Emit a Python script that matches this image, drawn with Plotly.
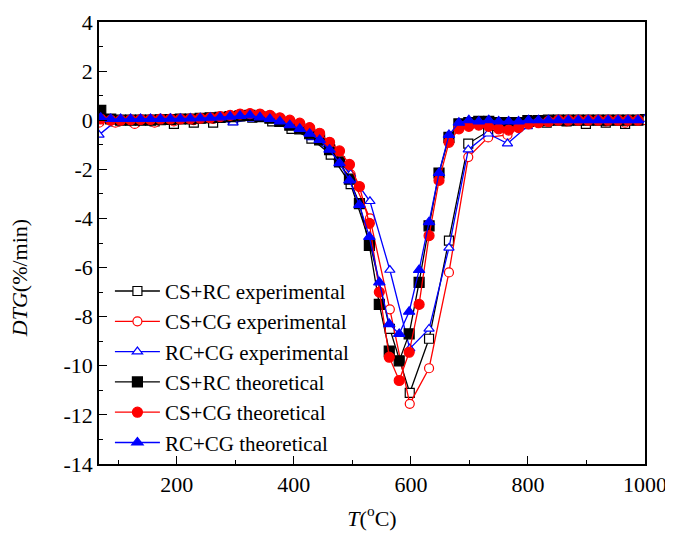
import plotly.graph_objects as go

# Experimental temperatures (°C)
T_exp = [67, 95, 128, 162, 195, 229, 262, 296, 329, 363, 396, 430, 463, 497, 530,
         564, 598, 631, 665, 698, 732, 765, 799, 832, 866, 899, 933, 966, 1000]
cs_rc_exp = [0.0, -0.05, -0.05, -0.05, -0.15, -0.1, -0.1, 0.0, 0.1, -0.05, -0.35, -0.75, -1.4, -2.6, -5.0,
             -8.5, -11.1, -8.9, -4.9, -0.95, -0.45, -0.3, 0.0, -0.1, -0.05, -0.15, -0.1, -0.15, 0.05]
cs_cg_exp = [-0.1, -0.1, -0.15, -0.1, -0.05, 0.0, 0.05, 0.15, 0.2, 0.1, -0.15, -0.5, -1.1, -2.2, -4.0,
             -7.7, -11.55, -10.1, -6.2, -1.5, -0.7, -0.6, -0.1, -0.05, -0.05, 0.0, -0.05, -0.1, 0.0]
rc_cg_exp = [-0.6, -0.05, 0.0, 0.0, 0.0, 0.0, 0.0, -0.1, 0.05, 0.0, -0.25, -0.7, -1.3, -2.2, -3.3,
             -6.1, -9.3, -8.5, -5.2, -1.2, -0.55, -0.95, -0.25, -0.05, 0.0, -0.05, 0.0, 0.0, 0.05]

# Theoretical temperatures (°C)
T_th = [70, 87, 104, 121, 138, 155, 172, 189, 206, 223, 240, 257, 274, 291, 308, 325, 342, 359,
        376, 393, 410, 427, 444, 461, 478, 495, 512, 529, 546, 563, 580, 597, 614, 631, 648, 665,
        682, 699, 716, 733, 750, 767, 784, 801, 818, 835, 852, 869, 886, 903, 920, 937, 954, 971, 988]
cs_rc_th = [0.4, 0.05, 0.0, 0.0, 0.0, 0.0, 0.02, 0.03, 0.05, 0.05, 0.08, 0.1, 0.12, 0.15, 0.18, 0.2, 0.15, 0.08,
            -0.05, -0.2, -0.35, -0.55, -0.8, -1.2, -1.7, -2.4, -3.4, -5.1, -7.5, -9.4, -9.8, -8.7, -6.6, -4.3, -2.15, -0.7,
            -0.15, -0.1, -0.05, -0.05, -0.1, -0.1, -0.1, -0.05, -0.02, 0.0, 0.0, 0.0, 0.0, 0.0, 0.0, 0.0, 0.0, 0.0, 0.0]
cs_cg_th = [0.05, 0.0, 0.0, 0.02, 0.03, 0.03, 0.05, 0.05, 0.05, 0.06, 0.08, 0.1, 0.15, 0.2, 0.25, 0.27, 0.25, 0.2,
            0.1, 0.0, -0.12, -0.3, -0.53, -0.9, -1.25, -1.8, -2.7, -4.2, -7.0, -9.65, -10.6, -9.45, -7.5, -4.7, -2.45, -0.9,
            -0.35, -0.25, -0.2, -0.25, -0.35, -0.4, -0.3, -0.15, -0.1, -0.05, 0.0, 0.0, 0.0, 0.0, 0.0, 0.0, 0.0, 0.0, 0.0]
rc_cg_th = [0.1, 0.05, 0.05, 0.05, 0.05, 0.05, 0.05, 0.06, 0.06, 0.07, 0.08, 0.1, 0.12, 0.15, 0.18, 0.2, 0.12, 0.05,
            -0.05, -0.2, -0.35, -0.55, -0.8, -1.2, -1.75, -2.45, -3.45, -4.75, -6.6, -8.3, -8.7, -7.8, -6.1, -4.15, -2.15, -0.6,
            -0.1, 0.0, -0.05, 0.0, -0.05, -0.05, -0.05, 0.0, 0.0, 0.0, 0.0, 0.0, 0.0, 0.0, 0.0, 0.0, 0.0, 0.0, 0.0]

y_ticks = [4, 2, 0, -2, -4, -6, -8, -10, -12, -14]
x_ticks = [200, 400, 600, 800, 1000]

FONT = '"Liberation Serif", "Times New Roman", Times, serif'
fig = go.Figure()

def add(x, y, name, color, symbol, filled):
    fig.add_trace(go.Scatter(
        x=x, y=y, name=name, mode="lines+markers",
        line=dict(color=color, width=1.3),
        marker=dict(symbol=symbol, size=10 if filled else 9,
                    color=color if filled else "white",
                    line=dict(color=color, width=1.2)),
    ))

add(T_exp, cs_rc_exp, "CS+RC experimental", "black", "square", False)
add(T_exp, cs_cg_exp, "CS+CG experimental", "red", "circle", False)
add(T_exp, rc_cg_exp, "RC+CG experimental", "blue", "triangle-up", False)
add(T_th, cs_rc_th, "CS+RC theoretical", "black", "square", True)
add(T_th, cs_cg_th, "CS+CG theoretical", "red", "circle", True)
add(T_th, rc_cg_th, "RC+CG theoretical", "blue", "triangle-up", True)

fig.update_layout(
    width=673, height=539,
    margin=dict(l=91, r=36, t=14, b=83),
    plot_bgcolor="white", paper_bgcolor="white",
    font=dict(family=FONT, size=22, color="black"),
    legend=dict(x=0.02, y=0.437, xanchor="left", yanchor="top", itemwidth=45,
                bgcolor="rgba(0,0,0,0)", font=dict(family=FONT, size=21)),
    xaxis=dict(range=[67, 1000], tickvals=x_ticks, ticktext=[str(v) for v in x_ticks],
               automargin=False,
               ticks="inside", ticklen=8, tickwidth=1.2, tickcolor="black",
               showline=True, linecolor="black", linewidth=1.5, mirror=True,
               showgrid=False, zeroline=False,
               minor=dict(dtick=100, tick0=0, ticks="inside", ticklen=4, tickcolor="black", showgrid=False),
               title=dict(text="<i>T</i>(<sup>o</sup>C)", font=dict(family=FONT, size=22), standoff=14)),
    yaxis=dict(range=[-14, 4], tickvals=y_ticks, ticktext=[str(v) for v in y_ticks],
               automargin=False,
               ticks="inside", ticklen=8, tickwidth=1.2, tickcolor="black",
               showline=True, linecolor="black", linewidth=1.5, mirror=True,
               showgrid=False, zeroline=False,
               minor=dict(dtick=1, tick0=0, ticks="inside", ticklen=4, tickcolor="black", showgrid=False)),
    annotations=[dict(text="<i>DTG</i>(%/min)", xref="paper", yref="paper",
                      x=-0.145, y=0.42, xanchor="center", yanchor="middle",
                      textangle=-90, showarrow=False,
                      font=dict(family=FONT, size=22))],
)

fig.write_html("out.html")
